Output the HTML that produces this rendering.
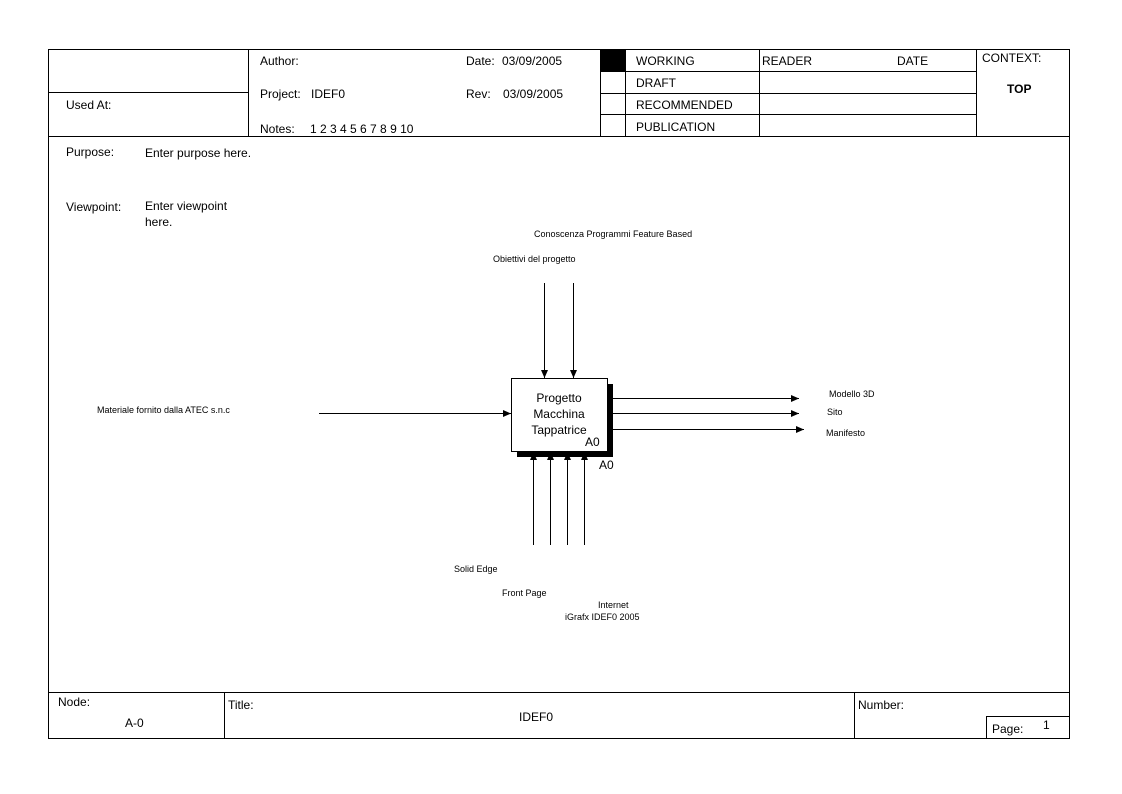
<!DOCTYPE html>
<html><head><meta charset="utf-8"><style>
html,body{margin:0;padding:0;background:#fff;}
svg{display:block;}
text{font-family:"Liberation Sans",sans-serif;fill:#000;}
.s{font-size:12px;}
.x{font-size:9px;}
</style></head><body>
<svg width="1122" height="794" viewBox="0 0 1122 794" xmlns="http://www.w3.org/2000/svg">
<defs><marker id="a" markerWidth="10" markerHeight="8" refX="8" refY="3.5" orient="auto" markerUnits="userSpaceOnUse"><path d="M0,0 L8,3.5 L0,7 z" fill="#000"/></marker></defs>
<g stroke="#000" stroke-width="1" fill="none" shape-rendering="crispEdges">
<rect x="48.5" y="49.5" width="1021" height="689"/>
<line x1="48" y1="136.5" x2="1070" y2="136.5"/>
<line x1="248.5" y1="49" x2="248.5" y2="136"/>
<line x1="48" y1="92.5" x2="248" y2="92.5"/>
<line x1="600.5" y1="49" x2="600.5" y2="136"/>
<line x1="625.5" y1="49" x2="625.5" y2="136"/>
<line x1="759.5" y1="49" x2="759.5" y2="136"/>
<line x1="976.5" y1="49" x2="976.5" y2="136"/>
<line x1="600" y1="71.5" x2="976" y2="71.5"/>
<line x1="600" y1="93.5" x2="976" y2="93.5"/>
<line x1="600" y1="114.5" x2="976" y2="114.5"/>
<line x1="48" y1="692.5" x2="1070" y2="692.5"/>
<line x1="224.5" y1="692" x2="224.5" y2="738"/>
<line x1="854.5" y1="692" x2="854.5" y2="738"/>
<rect x="986.5" y="716.5" width="83" height="22"/>
</g>
<rect x="601" y="50" width="24" height="21" fill="#000"/>
<text class="s" x="260" y="65">Author:</text>
<text class="s" x="466" y="65">Date:</text>
<text class="s" x="502" y="65">03/09/2005</text>
<text class="s" x="66" y="109">Used At:</text>
<text class="s" x="260" y="98">Project:</text>
<text class="s" x="311" y="98">IDEF0</text>
<text class="s" x="466" y="98">Rev:</text>
<text class="s" x="503" y="98">03/09/2005</text>
<text class="s" x="260" y="133">Notes:</text>
<text class="s" x="310" y="133">1 2 3 4 5 6 7 8 9 10</text>
<text class="s" x="636" y="65">WORKING</text>
<text class="s" x="636" y="87">DRAFT</text>
<text class="s" x="636" y="109">RECOMMENDED</text>
<text class="s" x="636" y="131">PUBLICATION</text>
<text class="s" x="762" y="65">READER</text>
<text class="s" x="897" y="65">DATE</text>
<text class="s" x="982" y="62">CONTEXT:</text>
<text x="1007" y="93" style="font-size:12px;font-weight:bold">TOP</text>
<text class="s" x="66" y="156">Purpose:</text>
<text class="s" x="145" y="157">Enter purpose here.</text>
<text class="s" x="66" y="211">Viewpoint:</text>
<text class="s" x="145" y="210">Enter viewpoint</text>
<text class="s" x="145" y="226">here.</text>
<rect x="517" y="384" width="96" height="73" fill="#000"/>
<rect x="511.5" y="378.5" width="96" height="73" fill="#fff" stroke="#000" shape-rendering="crispEdges"/>
<text class="s" x="559" y="402" text-anchor="middle">Progetto</text>
<text class="s" x="559" y="418" text-anchor="middle">Macchina</text>
<text class="s" x="559" y="434" text-anchor="middle">Tappatrice</text>
<text class="s" x="585" y="446">A0</text>
<text class="s" x="599" y="469">A0</text>
<g stroke="#000" stroke-width="1" fill="none" marker-end="url(#a)">
<line x1="544.5" y1="283" x2="544.5" y2="378"/>
<line x1="573.5" y1="283" x2="573.5" y2="378"/>
<line x1="319" y1="413.5" x2="511" y2="413.5"/>
<line x1="613" y1="398.5" x2="799" y2="398.5"/>
<line x1="613" y1="413.5" x2="799" y2="413.5"/>
<line x1="613" y1="429.5" x2="804" y2="429.5"/>
<line x1="533.5" y1="545" x2="533.5" y2="452"/>
<line x1="550.5" y1="545" x2="550.5" y2="452"/>
<line x1="567.5" y1="545" x2="567.5" y2="452"/>
<line x1="584.5" y1="545" x2="584.5" y2="452"/>
</g>
<text class="x" x="534" y="237">Conoscenza Programmi Feature Based</text>
<text class="x" x="493" y="262">Obiettivi del progetto</text>
<text class="x" x="97" y="413">Materiale fornito dalla ATEC s.n.c</text>
<text class="x" x="829" y="397">Modello 3D</text>
<text class="x" x="827" y="415">Sito</text>
<text class="x" x="826" y="436">Manifesto</text>
<text class="x" x="454" y="572">Solid Edge</text>
<text class="x" x="502" y="596">Front Page</text>
<text class="x" x="598" y="608">Internet</text>
<text class="x" x="565" y="620">iGrafx IDEF0 2005</text>
<text class="s" x="58" y="706">Node:</text>
<text class="s" x="125" y="727">A-0</text>
<text class="s" x="228" y="709">Title:</text>
<text class="s" x="519" y="721">IDEF0</text>
<text class="s" x="858" y="709">Number:</text>
<text class="s" x="992" y="733">Page:</text>
<text class="s" x="1043" y="729">1</text>
</svg>
</body></html>
